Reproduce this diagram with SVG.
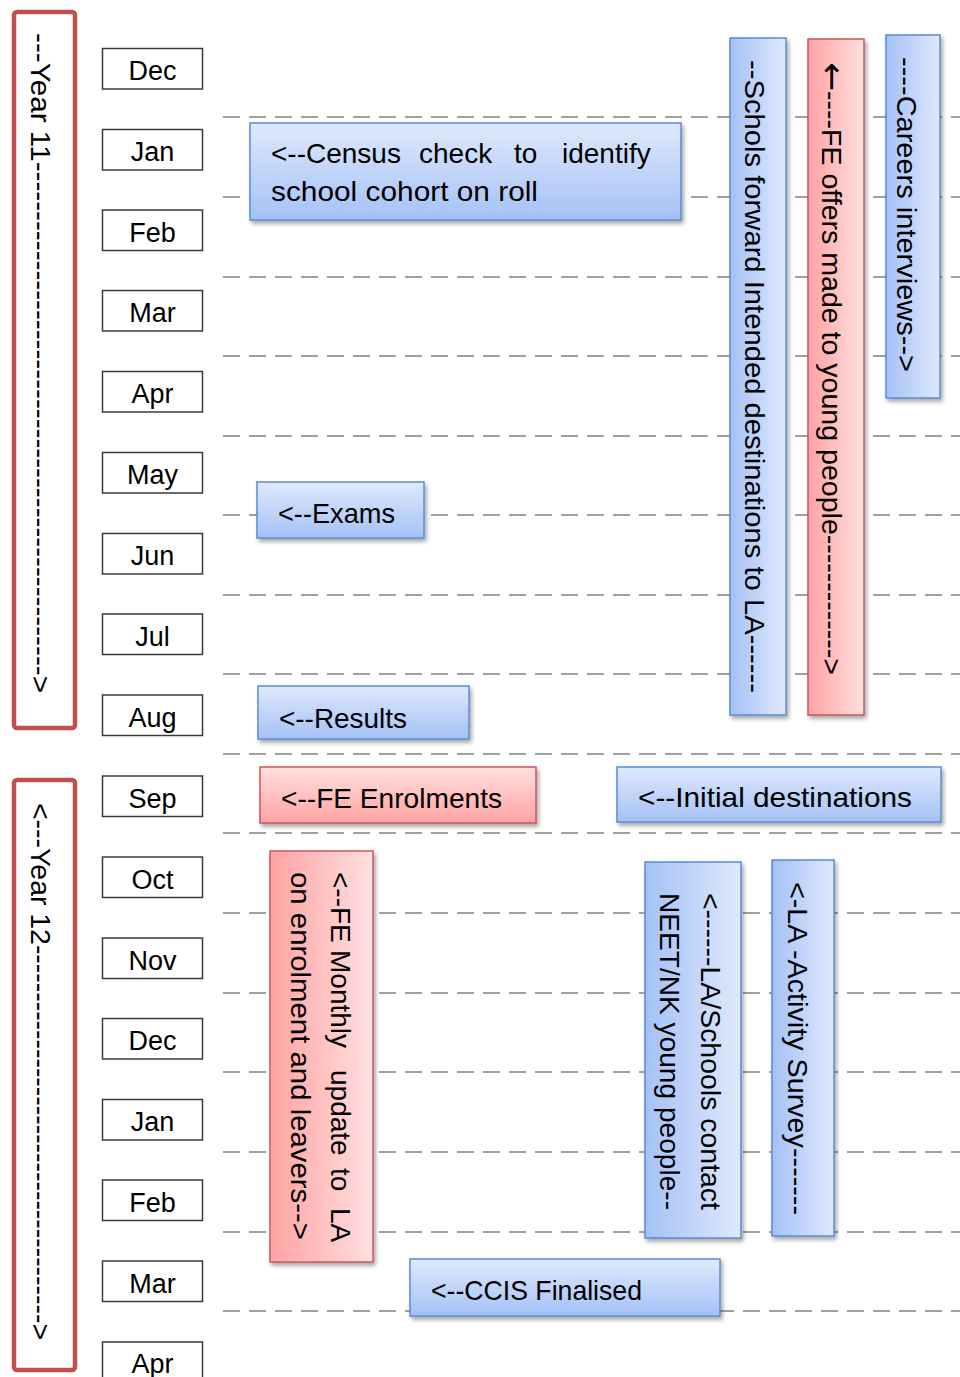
<svg xmlns="http://www.w3.org/2000/svg" width="960" height="1377" viewBox="0 0 960 1377">
<defs>
<linearGradient id="blueV" x1="0" y1="0" x2="0" y2="1"><stop offset="0" stop-color="#dfe9fc"/><stop offset="1" stop-color="#a4c1f6"/></linearGradient>
<linearGradient id="redV" x1="0" y1="0" x2="0" y2="1"><stop offset="0" stop-color="#ffe0e0"/><stop offset="1" stop-color="#ffa2a2"/></linearGradient>
<linearGradient id="blueH" x1="0" y1="0" x2="1" y2="0"><stop offset="0" stop-color="#a4c1f6"/><stop offset="1" stop-color="#dfe9fc"/></linearGradient>
<linearGradient id="redH" x1="0" y1="0" x2="1" y2="0"><stop offset="0" stop-color="#ffa2a2"/><stop offset="1" stop-color="#ffe0e0"/></linearGradient>
<filter id="sh" x="-10%" y="-10%" width="130%" height="130%"><feDropShadow dx="2" dy="3" stdDeviation="2" flood-color="#000" flood-opacity="0.35"/></filter>
</defs>
<style>
text{font-family:"Liberation Sans",Arial,sans-serif;fill:#000}
.grid line{stroke:#a0a0a0;stroke-width:2;stroke-dasharray:17 9}
.month rect{fill:#fff;stroke:#3a3a3a;stroke-width:1.5}
.month text{font-size:27px;text-anchor:middle}
.year rect{fill:#fff;stroke:#c0504d;stroke-width:4.5}
.year text{font-size:27px}
.b{stroke:#5a8ccf;stroke-width:1.5;filter:url(#sh)}
.r{stroke:#c9575a;stroke-width:1.5;filter:url(#sh)}
.t{font-size:28px}
.arr{font-family:"DejaVu Sans",sans-serif;font-size:34px}
</style>

<g id="gridlines" class="grid">
<line x1="223" y1="117" x2="960" y2="117"/>
<line x1="223" y1="197" x2="960" y2="197"/>
<line x1="223" y1="277" x2="960" y2="277"/>
<line x1="223" y1="356" x2="960" y2="356"/>
<line x1="223" y1="436" x2="960" y2="436"/>
<line x1="223" y1="515" x2="960" y2="515"/>
<line x1="223" y1="595" x2="960" y2="595"/>
<line x1="223" y1="674" x2="960" y2="674"/>
<line x1="223" y1="754" x2="960" y2="754"/>
<line x1="223" y1="833" x2="960" y2="833"/>
<line x1="223" y1="913" x2="960" y2="913"/>
<line x1="223" y1="993" x2="960" y2="993"/>
<line x1="223" y1="1072" x2="960" y2="1072"/>
<line x1="223" y1="1152" x2="960" y2="1152"/>
<line x1="223" y1="1232" x2="960" y2="1232"/>
<line x1="223" y1="1311" x2="960" y2="1311"/>
</g>

<g id="connectors"></g>

<g id="year11" class="year">
<rect x="14" y="12" width="61" height="716" rx="3"/>
<text transform="translate(31,33) rotate(90)" textLength="660" lengthAdjust="spacingAndGlyphs">---Year 11----------------------------------------------------&gt;</text>
</g>
<g id="year12" class="year">
<rect x="14" y="780" width="61" height="590" rx="3"/>
<text transform="translate(31,803) rotate(90)" textLength="537" lengthAdjust="spacingAndGlyphs">&lt;---Year 12----------------------------------------&gt;</text>
</g>

<g id="months" class="month">
<g id="m-dec1"><rect x="102.5" y="48.5" width="100" height="40.5"/><text x="152.5" y="80">Dec</text></g>
<g id="m-jan1"><rect x="102.5" y="129.5" width="100" height="40.5"/><text x="152.5" y="161">Jan</text></g>
<g id="m-feb1"><rect x="102.5" y="210" width="100" height="40.5"/><text x="152.5" y="242">Feb</text></g>
<g id="m-mar1"><rect x="102.5" y="290.5" width="100" height="40.5"/><text x="152.5" y="322">Mar</text></g>
<g id="m-apr1"><rect x="102.5" y="371.5" width="100" height="40.5"/><text x="152.5" y="403">Apr</text></g>
<g id="m-may"><rect x="102.5" y="452.5" width="100" height="40.5"/><text x="152.5" y="484">May</text></g>
<g id="m-jun"><rect x="102.5" y="533.5" width="100" height="40.5"/><text x="152.5" y="565">Jun</text></g>
<g id="m-jul"><rect x="102.5" y="614" width="100" height="40.5"/><text x="152.5" y="646">Jul</text></g>
<g id="m-aug"><rect x="102.5" y="695" width="100" height="40.5"/><text x="152.5" y="727">Aug</text></g>
<g id="m-sep"><rect x="102.5" y="776" width="100" height="40.5"/><text x="152.5" y="808">Sep</text></g>
<g id="m-oct"><rect x="102.5" y="857" width="100" height="40.5"/><text x="152.5" y="889">Oct</text></g>
<g id="m-nov"><rect x="102.5" y="938" width="100" height="40.5"/><text x="152.5" y="970">Nov</text></g>
<g id="m-dec2"><rect x="102.5" y="1018.5" width="100" height="40.5"/><text x="152.5" y="1050">Dec</text></g>
<g id="m-jan2"><rect x="102.5" y="1099.5" width="100" height="40.5"/><text x="152.5" y="1131">Jan</text></g>
<g id="m-feb2"><rect x="102.5" y="1180" width="100" height="40.5"/><text x="152.5" y="1212">Feb</text></g>
<g id="m-mar2"><rect x="102.5" y="1261" width="100" height="40.5"/><text x="152.5" y="1293">Mar</text></g>
<g id="m-apr2"><rect x="102.5" y="1342" width="100" height="40.5"/><text x="152.5" y="1373">Apr</text></g>
</g>

<g id="census">
<rect class="b" x="250" y="123" width="431" height="97" fill="url(#blueV)"/>
<text class="t" y="163"><tspan x="271">&lt;--Census</tspan><tspan x="419">check</tspan><tspan x="514">to</tspan><tspan x="562">identify</tspan></text>
<text class="t" x="271" y="201" textLength="267" lengthAdjust="spacingAndGlyphs">school cohort on roll</text>
</g>

<g id="exams">
<rect class="b" x="257" y="482" width="167" height="56" fill="url(#blueV)"/>
<text class="t" x="278" y="523" textLength="117" lengthAdjust="spacingAndGlyphs">&lt;--Exams</text>
</g>

<g id="results">
<rect class="b" x="258" y="686" width="211" height="53" fill="url(#blueV)"/>
<text class="t" x="279" y="728" textLength="128" lengthAdjust="spacingAndGlyphs">&lt;--Results</text>
</g>

<g id="fe-enrolments">
<rect class="r" x="260" y="767" width="276" height="56" fill="url(#redV)"/>
<text class="t" x="281" y="808" textLength="221" lengthAdjust="spacingAndGlyphs">&lt;--FE Enrolments</text>
</g>

<g id="initial-destinations">
<rect class="b" x="617" y="767" width="324" height="55" fill="url(#blueV)"/>
<text class="t" x="638" y="807" textLength="274" lengthAdjust="spacingAndGlyphs">&lt;--Initial destinations</text>
</g>

<g id="ccis">
<rect class="b" x="410" y="1259" width="310" height="57" fill="url(#blueV)"/>
<text class="t" x="431" y="1300" textLength="211" lengthAdjust="spacingAndGlyphs">&lt;--CCIS Finalised</text>
</g>

<g id="schools-forward">
<rect class="b" x="730" y="38" width="56" height="677" fill="url(#blueH)"/>
<text class="t" transform="translate(745,60) rotate(90)" textLength="633" lengthAdjust="spacingAndGlyphs">--Schols forward Intended destinations to LA------</text>
</g>

<g id="fe-offers">
<rect class="r" x="808" y="39" width="56" height="676" fill="url(#redH)"/>
<text class="t" transform="translate(822,62) rotate(90)" textLength="613" lengthAdjust="spacingAndGlyphs"><tspan class="arr" dy="1">←</tspan><tspan dy="-1">----FE offers made to young people-------------&gt;</tspan></text>
</g>

<g id="careers">
<rect class="b" x="886" y="35" width="54" height="363" fill="url(#blueH)"/>
<text class="t" transform="translate(897,57) rotate(90)" textLength="315" lengthAdjust="spacingAndGlyphs">----Careers interviews--&gt;</text>
</g>

<g id="fe-monthly">
<rect class="r" x="270" y="851" width="103" height="411" fill="url(#redH)"/>
<text class="t" transform="translate(331,872) rotate(90)"><tspan x="0">&lt;--FE</tspan><tspan x="78">Monthly</tspan><tspan x="198">update</tspan><tspan x="296">to</tspan><tspan x="336">LA</tspan></text>
<text class="t" transform="translate(291,872) rotate(90)" textLength="368" lengthAdjust="spacingAndGlyphs">on enrolment and leavers--&gt;</text>
</g>

<g id="la-schools-contact">
<rect class="b" x="645" y="862" width="96" height="376" fill="url(#blueH)"/>
<text class="t" transform="translate(701,893) rotate(90)" textLength="317" lengthAdjust="spacingAndGlyphs">&lt;------LA/Schools contact</text>
<text class="t" transform="translate(660,893) rotate(90)" textLength="317" lengthAdjust="spacingAndGlyphs">NEET/NK young people--</text>
</g>

<g id="la-activity-survey">
<rect class="b" x="772" y="860" width="62" height="376" fill="url(#blueH)"/>
<text class="t" transform="translate(788,882) rotate(90)" textLength="333" lengthAdjust="spacingAndGlyphs">&lt;-LA -Activity Survey-------</text>
</g>
</svg>
